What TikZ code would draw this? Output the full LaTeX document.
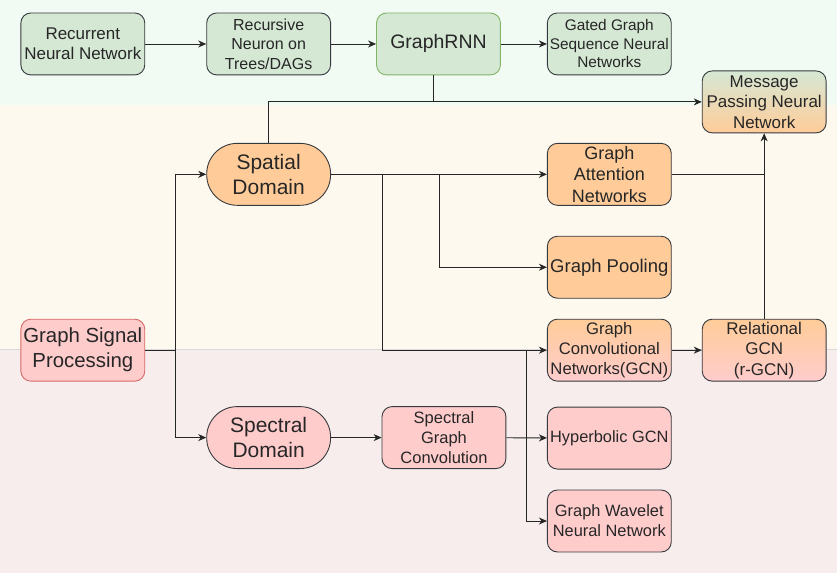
\documentclass[tikz,border=0pt]{standalone}
\usepackage{fontspec}
\setmainfont{Liberation Sans}
\usetikzlibrary{arrows.meta}
\definecolor{bgtop}{HTML}{F1FBF4}
\definecolor{bgmid}{HTML}{FEF9EE}
\definecolor{bgbot}{HTML}{F7EDED}
\definecolor{gfill}{HTML}{D5E8D4}
\definecolor{gline}{HTML}{82B366}
\definecolor{ofill}{HTML}{FFCC99}
\definecolor{pfill}{HTML}{FFCCCC}
\definecolor{rline}{HTML}{D46A6A}
\definecolor{boxline}{HTML}{36393D}
\definecolor{txt}{HTML}{262626}
\begin{document}
\begin{tikzpicture}[x=1pt,y=-1pt,
  box/.style={draw=boxline, line width=0.9pt, rounded corners=10pt,
    minimum width=124pt, minimum height=62pt, align=center, inner sep=1pt,
    text=txt, font=\fontsize{17}{20.5}\selectfont},
  stadium/.style={box, rounded corners=30.5pt, font=\fontsize{21}{25}\selectfont},
  green/.style={fill=gfill},
  orange/.style={fill=ofill},
  pink/.style={fill=pfill},
  conn/.style={draw=black!85, line width=0.9pt},
  arr/.style={conn, -{Stealth[length=8pt,width=7pt,inset=2.5pt]}}
]
\fill[bgtop] (0,0) rectangle (837,105);
\fill[bgmid] (0,105) rectangle (837,350);
\fill[bgbot] (0,350) rectangle (837,574);
\draw[black!15, line width=0.8pt] (0,350) -- (837,350);
\useasboundingbox (0,0) rectangle (837,574);

% top row
\node[box, green] (rnn) at (82.5,44) {Recurrent\\Neural Network};
\node[box, green, font=\fontsize{16}{19.5}\selectfont] (rec) at (268.5,44) {Recursive\\Neuron on\\Trees/DAGs};
\node[box, fill=gfill, draw=gline, font=\fontsize{19.5}{23}\selectfont] (grnn) at (438.5,44) {GraphRNN};
\node[box, green, font=\fontsize{15.4}{18.5}\selectfont] (gated) at (609.5,44) {Gated Graph\\Sequence Neural\\Networks};
\node[box, top color=gfill, bottom color=ofill] (mpnn) at (764.5,102) {Message\\Passing Neural\\Network};

% spatial
\node[stadium, orange] (spatial) at (268.5,174.5) {Spatial\\Domain};
\node[box, orange, font=\fontsize{18}{21.7}\selectfont] (gat) at (609.5,174.5) {Graph\\Attention\\Networks};
\node[box, orange, font=\fontsize{18.5}{22}\selectfont] (pool) at (609.5,267.5) {Graph Pooling};
\node[box, top color=ofill, bottom color=pfill, font=\fontsize{16.7}{20}\selectfont] (gcn) at (609.5,350.5) {Graph\\Convolutional\\Networks(GCN)};
\node[box, top color=ofill, bottom color=pfill] (rgcn) at (764.5,350.5) {Relational\\GCN\\(r-GCN)};

% signal processing
\node[box, pink, draw=rline, font=\fontsize{20.4}{25}\selectfont] (gsp) at (82.5,350.5) {Graph Signal\\Processing};

% spectral
\node[stadium, pink] (spectral) at (268.5,438) {Spectral\\Domain};
\node[box, pink, font=\fontsize{16.5}{20}\selectfont] (sgc) at (444,438) {Spectral\\Graph\\Convolution};
\node[box, pink, font=\fontsize{16.4}{20}\selectfont] (hyp) at (609.5,438.5) {Hyperbolic GCN};
\node[box, pink, font=\fontsize{16.4}{20}\selectfont] (wav) at (609.5,521.5) {Graph Wavelet\\Neural Network};

% junction coordinates
\coordinate (tj) at (433,102);
\coordinate (gj) at (175,350.5);
\coordinate (b1) at (439,174.5);
\coordinate (b2) at (382,174.5);
\coordinate (b3) at (527,350.5);

% connectors
\draw[arr] (rnn) -- (rec);
\draw[arr] (rec) -- (grnn);
\draw[arr] (grnn) -- (gated);
\draw[conn] (tj |- grnn.south) -- (tj);
\draw[arr] (spatial.north) |- (mpnn.west);
\draw[conn] (gsp.east) -- (gj);
\draw[arr] (gj) |- (spatial.west);
\draw[arr] (gj) |- (spectral.west);
\draw[arr] (spatial.east) -- (gat.west);
\draw[arr] (b1) |- (pool.west);
\draw[arr] (b2) |- (gcn.west);
\draw[conn] (gat.east) -- (gat.east -| mpnn.south);
\draw[arr] (rgcn.north) -- (mpnn.south);
\draw[arr] (gcn) -- (rgcn);
\draw[arr] (spectral) -- (sgc);
\draw[arr] (sgc) -- (hyp);
\draw[arr] (b3) |- (wav.west);
\end{tikzpicture}
\end{document}
